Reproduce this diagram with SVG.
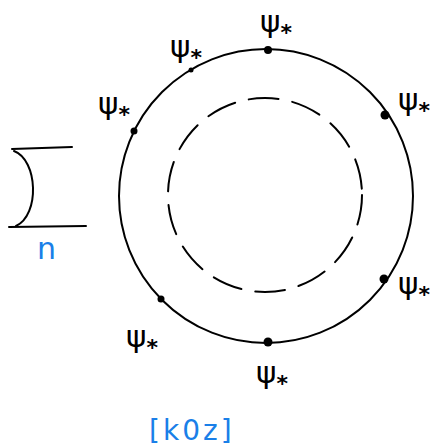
<svg xmlns="http://www.w3.org/2000/svg" width="434" height="448" viewBox="0 0 434 448">
<style>
.ln{fill:none;stroke:#000;stroke-width:2;stroke-linecap:round}
.dot{fill:#000}
.psi{font-family:"DejaVu Sans",sans-serif;font-size:31px;fill:#000}
.sub{font-size:22px;font-weight:bold}
.blue{font-family:"DejaVu Sans",sans-serif;fill:#1a7fe8}
</style>
<rect width="434" height="448" fill="#fff"/>
<g id="sigma">
<path class="ln" d="M12,149 L72,147"/>
<path class="ln" d="M9,227 L86,226"/>
<path class="ln" d="M14,151 C38,160 40,215 16,226"/>
</g>
<g id="n-label"><text class="blue" x="37" y="259" font-size="30">n</text></g>
<g id="outer-circle"><circle class="ln" cx="266" cy="196" r="147"/></g>
<g id="inner-circle"><circle class="ln" cx="265" cy="195" r="97" stroke-dasharray="30 14"/></g>
<g id="points">
<circle class="dot" cx="268" cy="50" r="4"/>
<circle class="dot" cx="191" cy="70" r="2.5"/>
<circle class="dot" cx="134" cy="131" r="3.5"/>
<circle class="dot" cx="385" cy="115" r="4.5"/>
<circle class="dot" cx="384" cy="279" r="4.5"/>
<circle class="dot" cx="161" cy="299" r="3.5"/>
<circle class="dot" cx="268" cy="342" r="4.5"/>
</g>
<g id="labels">
<text class="psi" x="260" y="32">ψ<tspan class="sub" dy="8">*</tspan></text>
<text class="psi" x="170" y="57">ψ<tspan class="sub" dy="8">*</tspan></text>
<text class="psi" x="98" y="114">ψ<tspan class="sub" dy="8">*</tspan></text>
<text class="psi" x="398" y="110">ψ<tspan class="sub" dy="8">*</tspan></text>
<text class="psi" x="398" y="294">ψ<tspan class="sub" dy="8">*</tspan></text>
<text class="psi" x="126" y="347">ψ<tspan class="sub" dy="8">*</tspan></text>
<text class="psi" x="256" y="383">ψ<tspan class="sub" dy="8">*</tspan></text>
</g>
<g id="caption"><text class="blue" x="149" y="440" font-size="28" letter-spacing="3">[k0z]</text></g>
</svg>
